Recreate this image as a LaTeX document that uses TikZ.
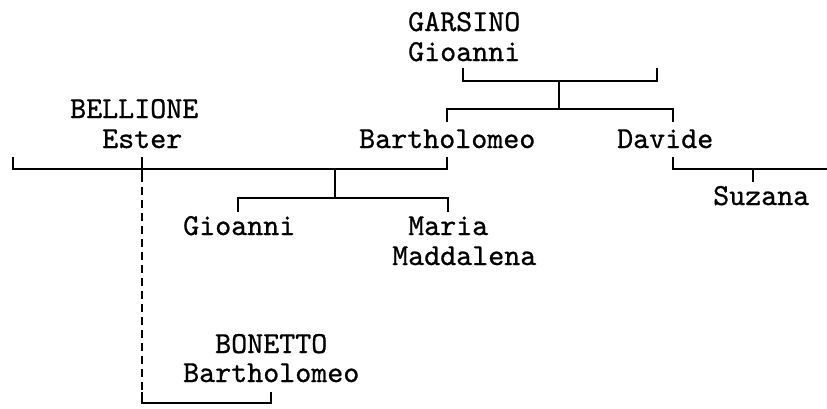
\documentclass[tikz,border=0pt]{standalone}
\usepackage{fontspec}
\newfontfamily\personfont{lmmono10-regular}[Extension=.otf, FakeBold=0.8]
\begin{document}
\begin{tikzpicture}[x=1pt, y=-1pt,
        person/.style={anchor=base west, inner sep=0pt, font=\personfont\fontsize{30.5}{34}\selectfont},
        tree/.style={line width=1.8pt},
        link/.style={line width=1.8pt, dash pattern=on 8pt off 5pt}]
                \useasboundingbox (0,0) rectangle (827,408);
                \node[person] at (408,31) (garsino) {GARSINO};
                \node[person] at (408,61) (gioanniG) {Gioanni};
                \node[person] at (70,118) (bellione) {BELLIONE};
                \node[person] at (102,148) (ester) {Ester};
                \node[person] at (359,148) (bartho) {Bartholomeo};
                \node[person] at (617,148) (davide) {Davide};
                \node[person] at (713,205) (suzana) {Suzana};
                \node[person] at (183,235) (gioanniC) {Gioanni};
                \node[person] at (408,235) (maria) {Maria};
                \node[person] at (392,265) (maddalena) {Maddalena};
                \node[person] at (215,353) (bonetto) {BONETTO};
                \node[person] at (183,382) (barthoB) {Bartholomeo};
                \coordinate (g1) at (463,68);
                \coordinate (g2) at (657,68);
                \coordinate (gm) at (559,81);
                \coordinate (s1) at (447,122);
                \coordinate (s2) at (673,122);
                \coordinate (sm) at (559,109);
                \coordinate (e1) at (13,157);
                \coordinate (e2) at (142,157);
                \coordinate (b1) at (447,157);
                \coordinate (em) at (335,169);
                \coordinate (c1) at (238,212);
                \coordinate (c2) at (448,212);
                \coordinate (cm) at (335,198);
                \coordinate (d1) at (673,157);
                \coordinate (d2) at (827,169);
                \coordinate (dm) at (753,169);
                \coordinate (z1) at (753,182);
                \coordinate (x1) at (142,169);
                \coordinate (x2) at (142,392);
                \coordinate (x3) at (271,392);
                \draw[tree] (g1) |- (gm) -| (g2);
                \draw[tree] (gm) -- (sm);
                \draw[tree] (s1) |- (sm) -| (s2);
                \draw[tree] (e1) |- (em) -| (b1);
                \draw[tree] (e2) -- (x1) -- ++(0,13);
                \draw[tree] (em) -- (cm);
                \draw[tree] (c1) |- (cm) -| (c2);
                \draw[tree] (d1) |- (dm) -- (d2);
                \draw[tree] (dm) -- (z1);
                \draw[link] (x1) ++(0,18) -- (x2);
                \draw[tree] (x2) -- ++(0,11) -| (x3);
            \end{tikzpicture}
\end{document}
